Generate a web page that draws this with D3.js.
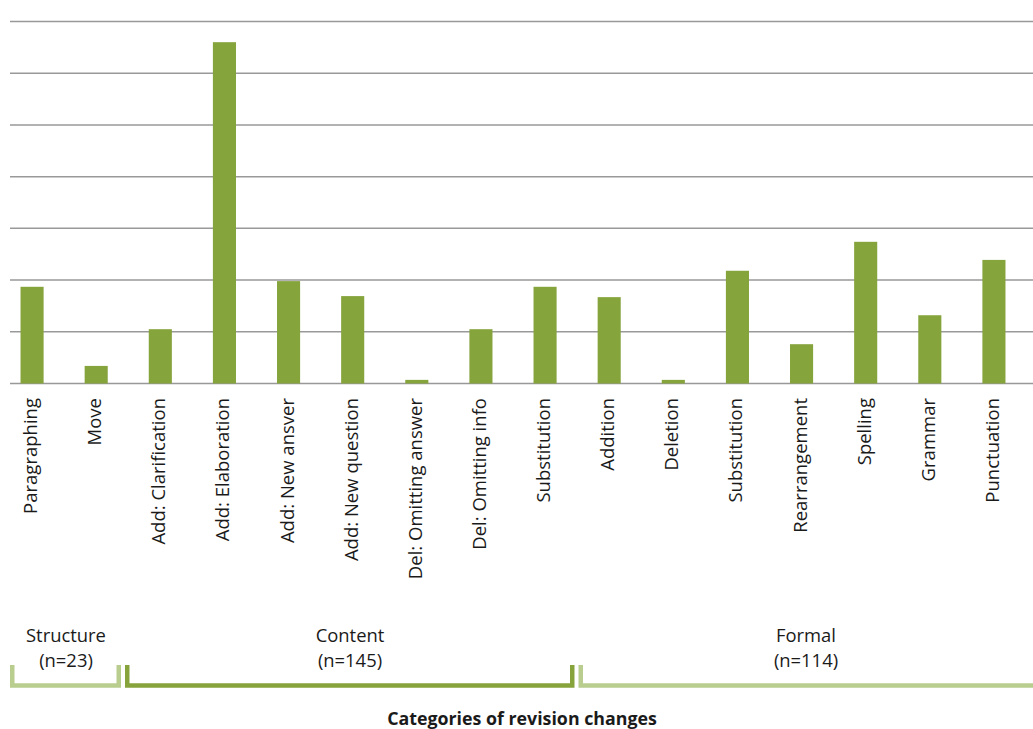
<!DOCTYPE html>
<html>
<head>
<meta charset="utf-8">
<script src="https://cdn.jsdelivr.net/npm/d3@7"></script>
<style>
  body { margin: 0; background: #fff; }
  svg { display: block; }
</style>
</head>
<body>
<svg id="chart"></svg>
<script>
// categories and values
const categories = ["Paragraphing", "Move", "Add: Clarification", "Add: Elaboration", "Add: New ansver",
  "Add: New question", "Del: Omitting answer", "Del: Omitting info", "Substitution", "Addition",
  "Deletion", "Substitution ", "Rearrangement", "Spelling", "Grammar", "Punctuation"];
const values = [18.7, 3.4, 10.5, 66.0, 19.8, 16.9, 0.7, 10.5, 18.7, 16.7, 0.7, 21.8, 7.6, 27.4, 13.2, 23.9];
const yTicks = [0, 10, 20, 30, 40, 50, 60, 70];

const groups = [
  { name: "Structure", n: "(n=23)" },
  { name: "Content", n: "(n=145)" },
  { name: "Formal", n: "(n=114)" }
];
const groupColors = ["#b9cd8f", "#86a33c", "#b9cd8f"];

const W = 1033, H = 729;
const barColor = "#86a43c";
const font = 'Open Sans, sans-serif';

const svg = d3.select('#chart')
  .attr('width', W)
  .attr('height', H);

const x = d3.scaleBand()
  .domain(categories)
  .range([0, 1026])
  .paddingInner(0.64)
  .paddingOuter(0.32);

const y = d3.scaleLinear()
  .domain([0, 70])
  .range([383.5, 21.5]);

// gridlines
svg.append('g')
  .selectAll('line')
  .data(yTicks)
  .enter().append('line')
  .attr('x1', 10)
  .attr('x2', W)
  .attr('y1', d => y(d))
  .attr('y2', d => y(d))
  .attr('stroke', '#999')
  .attr('stroke-width', 1.5);

// bars
svg.append('g')
  .selectAll('rect')
  .data(values)
  .enter().append('rect')
  .attr('x', (d, i) => x(categories[i]))
  .attr('y', d => y(d))
  .attr('width', x.bandwidth())
  .attr('height', d => y(0) - y(d))
  .attr('fill', barColor);

// rotated category labels
svg.append('g')
  .selectAll('text')
  .data(categories)
  .enter().append('text')
  .attr('transform', d => `translate(${x(d) + x.bandwidth() / 2 + 5},398) rotate(-90)`)
  .attr('text-anchor', 'end')
  .attr('font-family', font)
  .attr('font-size', 18.5)
  .attr('fill', '#1a1a1a')
  .text(d => d.trim());

// group brackets
const gx0 = [10, 125, 578.5];
const gx1 = [121, 574.5, W + 10];
const gcx = [66, 350, 806];
const bracket = svg.append('g');
groups.forEach((g, i) => {
  const x0 = gx0[i], x1 = gx1[i];
  bracket.append('path')
    .attr('d', `M${x0 + 2.25},665 V685.5 H${x1 - 2.25} V665`)
    .attr('fill', 'none')
    .attr('stroke', groupColors[i])
    .attr('stroke-width', 4.5);

  bracket.append('text')
    .attr('x', gcx[i])
    .attr('y', 642)
    .attr('text-anchor', 'middle')
    .attr('font-family', font)
    .attr('font-size', 18.4)
    .attr('fill', '#1a1a1a')
    .text(g.name);
  bracket.append('text')
    .attr('x', gcx[i])
    .attr('y', 667)
    .attr('text-anchor', 'middle')
    .attr('font-family', font)
    .attr('font-size', 18.4)
    .attr('fill', '#1a1a1a')
    .text(g.n);
});

// axis title
svg.append('text')
  .attr('x', 522)
  .attr('y', 725)
  .attr('text-anchor', 'middle')
  .attr('font-family', font)
  .attr('font-weight', 'bold')
  .attr('font-size', 17.8)
  .attr('fill', '#1a1a1a')
  .text('Categories of revision changes');
</script>
</body>
</html>
